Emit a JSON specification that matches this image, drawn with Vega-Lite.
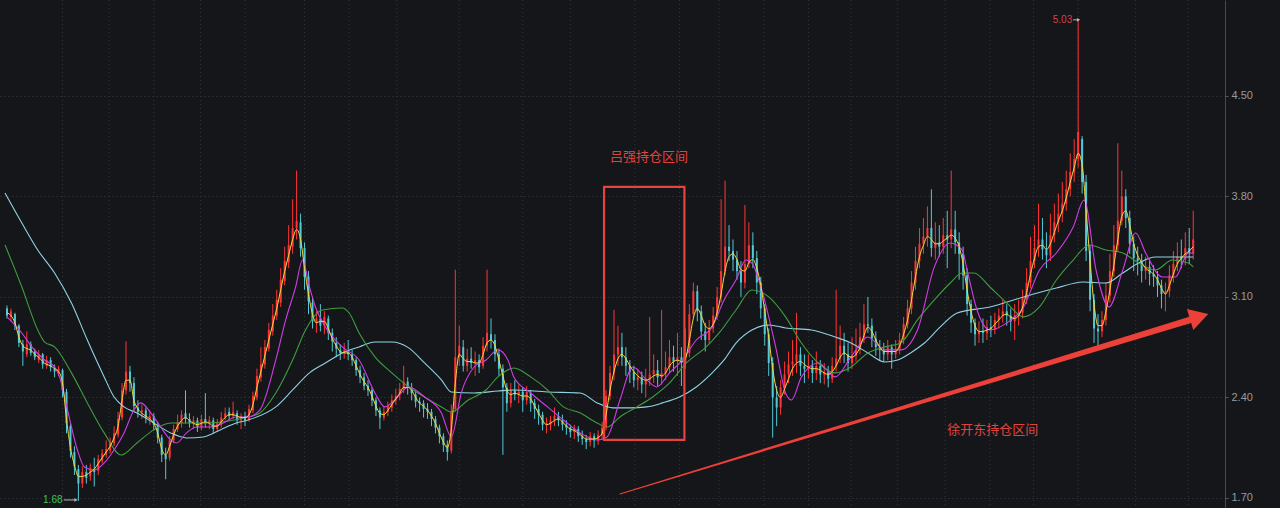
{
"$schema":"https://vega.github.io/schema/vega-lite/v6.json",
"autosize":{"type":"none"},
"padding":{"left":0,"top":0,"right":55,"bottom":0},
"width":1225,"height":508,
"background":"#15161a",
"config":{"view":{"stroke":null},"font":"Noto Sans CJK SC"},
"datasets":{
"k":[
{"i":0,"o":3.02,"h":3.04,"l":2.95,"c":2.97,"m":2.99},{"i":1,"o":2.96,"h":3.02,"l":2.93,"c":3.00,"m":2.97},{"i":2,"o":2.98,"h":2.99,"l":2.87,"c":2.90,"m":2.92},{"i":3,"o":2.90,"h":2.91,"l":2.75,"c":2.78,"m":2.82},{"i":4,"o":2.77,"h":2.80,"l":2.62,"c":2.72,"m":2.76},{"i":5,"o":2.70,"h":2.86,"l":2.68,"c":2.77,"m":2.74},{"i":6,"o":2.77,"h":2.79,"l":2.69,"c":2.71,"m":2.73},{"i":7,"o":2.72,"h":2.74,"l":2.66,"c":2.68,"m":2.70},{"i":8,"o":2.66,"h":2.73,"l":2.64,"c":2.70,"m":2.68},{"i":9,"o":2.70,"h":2.71,"l":2.60,"c":2.63,"m":2.65},
{"i":10,"o":2.62,"h":2.69,"l":2.60,"c":2.66,"m":2.63},{"i":11,"o":2.66,"h":2.68,"l":2.58,"c":2.61,"m":2.62},{"i":12,"o":2.60,"h":2.63,"l":2.54,"c":2.58,"m":2.60},{"i":13,"o":2.57,"h":2.62,"l":2.55,"c":2.60,"m":2.58},{"i":14,"o":2.59,"h":2.60,"l":2.40,"c":2.45,"m":2.50},{"i":15,"o":2.44,"h":2.46,"l":2.15,"c":2.22,"m":2.25},{"i":16,"o":2.20,"h":2.22,"l":1.98,"c":2.03,"m":2.05},{"i":17,"o":2.02,"h":2.06,"l":1.86,"c":1.92,"m":1.93},{"i":18,"o":1.90,"h":1.93,"l":1.68,"c":1.80,"m":1.85},{"i":19,"o":1.80,"h":1.92,"l":1.77,"c":1.88,"m":1.85},
{"i":20,"o":1.88,"h":1.93,"l":1.80,"c":1.84,"m":1.86},{"i":21,"o":1.85,"h":1.94,"l":1.82,"c":1.91,"m":1.88},{"i":22,"o":1.90,"h":1.98,"l":1.78,"c":1.88,"m":1.90},{"i":23,"o":1.89,"h":2.00,"l":1.86,"c":1.97,"m":1.94},{"i":24,"o":1.96,"h":2.04,"l":1.94,"c":2.01,"m":1.98},{"i":25,"o":2.00,"h":2.10,"l":1.98,"c":2.04,"m":2.02},{"i":26,"o":2.03,"h":2.12,"l":2.01,"c":2.09,"m":2.06},{"i":27,"o":2.08,"h":2.20,"l":2.06,"c":2.15,"m":2.12},{"i":28,"o":2.14,"h":2.30,"l":2.12,"c":2.25,"m":2.20},{"i":29,"o":2.26,"h":2.50,"l":2.24,"c":2.45,"m":2.38},
{"i":30,"o":2.45,"h":2.79,"l":2.42,"c":2.58,"m":2.52},{"i":31,"o":2.58,"h":2.62,"l":2.44,"c":2.50,"m":2.52},{"i":32,"o":2.50,"h":2.54,"l":2.30,"c":2.34,"m":2.38},{"i":33,"o":2.33,"h":2.38,"l":2.26,"c":2.30,"m":2.32},{"i":34,"o":2.30,"h":2.35,"l":2.25,"c":2.31,"m":2.29},{"i":35,"o":2.31,"h":2.33,"l":2.22,"c":2.26,"m":2.27},{"i":36,"o":2.25,"h":2.31,"l":2.21,"c":2.27,"m":2.25},{"i":37,"o":2.27,"h":2.29,"l":2.17,"c":2.21,"m":2.22},{"i":38,"o":2.20,"h":2.23,"l":2.08,"c":2.12,"m":2.15},{"i":39,"o":2.12,"h":2.14,"l":1.95,"c":2.00,"m":2.04},
{"i":40,"o":2.00,"h":2.05,"l":1.83,"c":1.97,"m":2.00},{"i":41,"o":1.98,"h":2.13,"l":1.96,"c":2.10,"m":2.06},{"i":42,"o":2.10,"h":2.21,"l":2.08,"c":2.18,"m":2.14},{"i":43,"o":2.18,"h":2.28,"l":2.16,"c":2.23,"m":2.20},{"i":44,"o":2.22,"h":2.31,"l":2.19,"c":2.28,"m":2.24},{"i":45,"o":2.29,"h":2.45,"l":2.22,"c":2.25,"m":2.26},{"i":46,"o":2.25,"h":2.29,"l":2.19,"c":2.22,"m":2.24},{"i":47,"o":2.22,"h":2.27,"l":2.18,"c":2.24,"m":2.22},{"i":48,"o":2.24,"h":2.26,"l":2.16,"c":2.19,"m":2.21},{"i":49,"o":2.19,"h":2.28,"l":2.17,"c":2.25,"m":2.22},
{"i":50,"o":2.25,"h":2.43,"l":2.19,"c":2.22,"m":2.23},{"i":51,"o":2.22,"h":2.27,"l":2.18,"c":2.24,"m":2.22},{"i":52,"o":2.24,"h":2.26,"l":2.15,"c":2.18,"m":2.20},{"i":53,"o":2.18,"h":2.25,"l":2.16,"c":2.22,"m":2.20},{"i":54,"o":2.21,"h":2.30,"l":2.19,"c":2.26,"m":2.23},{"i":55,"o":2.26,"h":2.33,"l":2.24,"c":2.29,"m":2.26},{"i":56,"o":2.30,"h":2.33,"l":2.24,"c":2.27,"m":2.28},{"i":57,"o":2.27,"h":2.37,"l":2.25,"c":2.30,"m":2.28},{"i":58,"o":2.29,"h":2.31,"l":2.21,"c":2.24,"m":2.27},{"i":59,"o":2.24,"h":2.29,"l":2.18,"c":2.27,"m":2.26},
{"i":60,"o":2.27,"h":2.30,"l":2.20,"c":2.24,"m":2.26},{"i":61,"o":2.25,"h":2.35,"l":2.23,"c":2.32,"m":2.28},{"i":62,"o":2.31,"h":2.44,"l":2.29,"c":2.41,"m":2.35},{"i":63,"o":2.40,"h":2.60,"l":2.38,"c":2.55,"m":2.47},{"i":64,"o":2.54,"h":2.75,"l":2.51,"c":2.63,"m":2.58},{"i":65,"o":2.63,"h":2.80,"l":2.60,"c":2.75,"m":2.69},{"i":66,"o":2.74,"h":2.92,"l":2.72,"c":2.87,"m":2.80},{"i":67,"o":2.86,"h":3.05,"l":2.83,"c":2.97,"m":2.91},{"i":68,"o":2.97,"h":3.15,"l":2.94,"c":3.08,"m":3.02},{"i":69,"o":3.06,"h":3.30,"l":3.03,"c":3.22,"m":3.15},
{"i":70,"o":3.21,"h":3.45,"l":3.18,"c":3.35,"m":3.28},{"i":71,"o":3.34,"h":3.60,"l":3.30,"c":3.46,"m":3.39},{"i":72,"o":3.45,"h":3.78,"l":3.40,"c":3.58,"m":3.50},{"i":73,"o":3.58,"h":3.98,"l":3.50,"c":3.63,"m":3.57},{"i":74,"o":3.62,"h":3.68,"l":3.38,"c":3.44,"m":3.50},{"i":75,"o":3.44,"h":3.48,"l":3.15,"c":3.24,"m":3.30},{"i":76,"o":3.24,"h":3.28,"l":2.98,"c":3.07,"m":3.12},{"i":77,"o":3.06,"h":3.10,"l":2.88,"c":2.93,"m":2.98},{"i":78,"o":2.92,"h":3.00,"l":2.85,"c":2.95,"m":2.92},{"i":79,"o":2.95,"h":3.05,"l":2.86,"c":2.90,"m":2.93},
{"i":80,"o":2.90,"h":3.00,"l":2.84,"c":2.96,"m":2.93},{"i":81,"o":2.95,"h":2.97,"l":2.80,"c":2.85,"m":2.88},{"i":82,"o":2.85,"h":2.88,"l":2.72,"c":2.79,"m":2.81},{"i":83,"o":2.78,"h":2.82,"l":2.68,"c":2.74,"m":2.76},{"i":84,"o":2.73,"h":2.77,"l":2.66,"c":2.71,"m":2.72},{"i":85,"o":2.71,"h":2.78,"l":2.67,"c":2.73,"m":2.71},{"i":86,"o":2.72,"h":2.80,"l":2.66,"c":2.70,"m":2.71},{"i":87,"o":2.70,"h":2.73,"l":2.62,"c":2.66,"m":2.68},{"i":88,"o":2.66,"h":2.68,"l":2.55,"c":2.59,"m":2.62},{"i":89,"o":2.59,"h":2.62,"l":2.50,"c":2.54,"m":2.56},
{"i":90,"o":2.54,"h":2.57,"l":2.45,"c":2.48,"m":2.51},{"i":91,"o":2.48,"h":2.52,"l":2.41,"c":2.45,"m":2.47},{"i":92,"o":2.45,"h":2.47,"l":2.34,"c":2.38,"m":2.41},{"i":93,"o":2.38,"h":2.40,"l":2.27,"c":2.31,"m":2.34},{"i":94,"o":2.31,"h":2.33,"l":2.18,"c":2.26,"m":2.29},{"i":95,"o":2.26,"h":2.34,"l":2.24,"c":2.30,"m":2.28},{"i":96,"o":2.30,"h":2.37,"l":2.27,"c":2.34,"m":2.31},{"i":97,"o":2.33,"h":2.42,"l":2.30,"c":2.38,"m":2.35},{"i":98,"o":2.38,"h":2.46,"l":2.35,"c":2.41,"m":2.39},{"i":99,"o":2.42,"h":2.50,"l":2.38,"c":2.46,"m":2.43},
{"i":100,"o":2.46,"h":2.62,"l":2.43,"c":2.51,"m":2.47},{"i":101,"o":2.51,"h":2.54,"l":2.42,"c":2.47,"m":2.47},{"i":102,"o":2.47,"h":2.50,"l":2.38,"c":2.43,"m":2.45},{"i":103,"o":2.42,"h":2.45,"l":2.33,"c":2.37,"m":2.40},{"i":104,"o":2.37,"h":2.40,"l":2.30,"c":2.36,"m":2.36},{"i":105,"o":2.36,"h":2.38,"l":2.26,"c":2.32,"m":2.34},{"i":106,"o":2.32,"h":2.36,"l":2.25,"c":2.30,"m":2.31},{"i":107,"o":2.30,"h":2.32,"l":2.20,"c":2.25,"m":2.27},{"i":108,"o":2.25,"h":2.27,"l":2.15,"c":2.19,"m":2.22},{"i":109,"o":2.19,"h":2.21,"l":2.08,"c":2.13,"m":2.15},
{"i":110,"o":2.13,"h":2.15,"l":2.02,"c":2.07,"m":2.09},{"i":111,"o":2.07,"h":2.10,"l":1.96,"c":2.02,"m":2.05},{"i":112,"o":2.03,"h":2.35,"l":2.01,"c":2.30,"m":2.18},{"i":113,"o":2.32,"h":3.29,"l":2.30,"c":2.68,"m":2.50},{"i":114,"o":2.68,"h":2.90,"l":2.62,"c":2.76,"m":2.70},{"i":115,"o":2.75,"h":2.80,"l":2.58,"c":2.62,"m":2.67},{"i":116,"o":2.62,"h":2.74,"l":2.58,"c":2.67,"m":2.65},{"i":117,"o":2.67,"h":2.75,"l":2.60,"c":2.64,"m":2.65},{"i":118,"o":2.64,"h":2.72,"l":2.55,"c":2.66,"m":2.64},{"i":119,"o":2.66,"h":2.70,"l":2.57,"c":2.61,"m":2.64},
{"i":120,"o":2.62,"h":2.82,"l":2.60,"c":2.76,"m":2.70},{"i":121,"o":2.76,"h":3.29,"l":2.72,"c":2.85,"m":2.78},{"i":122,"o":2.84,"h":2.95,"l":2.74,"c":2.80,"m":2.80},{"i":123,"o":2.80,"h":2.84,"l":2.65,"c":2.70,"m":2.76},{"i":124,"o":2.70,"h":2.74,"l":2.55,"c":2.60,"m":2.66},{"i":125,"o":2.60,"h":2.63,"l":2.00,"c":2.47,"m":2.55},{"i":126,"o":2.47,"h":2.50,"l":2.30,"c":2.36,"m":2.45},{"i":127,"o":2.36,"h":2.50,"l":2.33,"c":2.45,"m":2.42},{"i":128,"o":2.45,"h":2.52,"l":2.38,"c":2.42,"m":2.43},{"i":129,"o":2.42,"h":2.49,"l":2.36,"c":2.44,"m":2.42},
{"i":130,"o":2.44,"h":2.47,"l":2.30,"c":2.38,"m":2.41},{"i":131,"o":2.38,"h":2.48,"l":2.35,"c":2.44,"m":2.41},{"i":132,"o":2.43,"h":2.45,"l":2.30,"c":2.36,"m":2.39},{"i":133,"o":2.36,"h":2.39,"l":2.25,"c":2.32,"m":2.34},{"i":134,"o":2.32,"h":2.35,"l":2.21,"c":2.28,"m":2.29},{"i":135,"o":2.28,"h":2.30,"l":2.17,"c":2.21,"m":2.24},{"i":136,"o":2.21,"h":2.26,"l":2.15,"c":2.22,"m":2.21},{"i":137,"o":2.21,"h":2.27,"l":2.17,"c":2.24,"m":2.22},{"i":138,"o":2.24,"h":2.33,"l":2.20,"c":2.27,"m":2.24},{"i":139,"o":2.27,"h":2.30,"l":2.20,"c":2.24,"m":2.25},
{"i":140,"o":2.24,"h":2.28,"l":2.17,"c":2.21,"m":2.23},{"i":141,"o":2.21,"h":2.24,"l":2.14,"c":2.19,"m":2.20},{"i":142,"o":2.19,"h":2.21,"l":2.12,"c":2.16,"m":2.18},{"i":143,"o":2.16,"h":2.21,"l":2.11,"c":2.18,"m":2.17},{"i":144,"o":2.18,"h":2.20,"l":2.09,"c":2.13,"m":2.15},{"i":145,"o":2.13,"h":2.17,"l":2.07,"c":2.11,"m":2.13},{"i":146,"o":2.11,"h":2.14,"l":2.04,"c":2.09,"m":2.11},{"i":147,"o":2.09,"h":2.16,"l":2.06,"c":2.13,"m":2.11},{"i":148,"o":2.13,"h":2.15,"l":2.05,"c":2.10,"m":2.11},{"i":149,"o":2.10,"h":2.17,"l":2.07,"c":2.14,"m":2.12},
{"i":150,"o":2.14,"h":2.23,"l":2.11,"c":2.19,"m":2.15},{"i":151,"o":2.19,"h":2.45,"l":2.17,"c":2.41,"m":2.28},{"i":152,"o":2.41,"h":2.62,"l":2.38,"c":2.57,"m":2.45},{"i":153,"o":2.57,"h":3.01,"l":2.52,"c":2.70,"m":2.58},{"i":154,"o":2.70,"h":2.90,"l":2.62,"c":2.75,"m":2.67},{"i":155,"o":2.75,"h":2.85,"l":2.62,"c":2.68,"m":2.70},{"i":156,"o":2.68,"h":2.75,"l":2.55,"c":2.62,"m":2.67},{"i":157,"o":2.62,"h":2.66,"l":2.50,"c":2.58,"m":2.62},{"i":158,"o":2.58,"h":2.62,"l":2.47,"c":2.52,"m":2.58},{"i":159,"o":2.52,"h":2.60,"l":2.45,"c":2.54,"m":2.55},
{"i":160,"o":2.54,"h":2.58,"l":2.43,"c":2.49,"m":2.53},{"i":161,"o":2.49,"h":2.60,"l":2.40,"c":2.52,"m":2.52},{"i":162,"o":2.52,"h":2.96,"l":2.48,"c":2.56,"m":2.53},{"i":163,"o":2.56,"h":2.70,"l":2.50,"c":2.59,"m":2.55},{"i":164,"o":2.59,"h":2.66,"l":2.48,"c":2.54,"m":2.56},{"i":165,"o":2.54,"h":3.01,"l":2.49,"c":2.57,"m":2.55},{"i":166,"o":2.57,"h":2.72,"l":2.52,"c":2.61,"m":2.57},{"i":167,"o":2.61,"h":2.80,"l":2.57,"c":2.68,"m":2.62},{"i":168,"o":2.68,"h":2.76,"l":2.58,"c":2.65,"m":2.65},{"i":169,"o":2.65,"h":2.85,"l":2.55,"c":2.68,"m":2.66},
{"i":170,"o":2.68,"h":2.75,"l":2.48,"c":2.64,"m":2.65},{"i":171,"o":2.64,"h":2.88,"l":2.60,"c":2.71,"m":2.67},{"i":172,"o":2.71,"h":3.05,"l":2.68,"c":2.98,"m":2.80},{"i":173,"o":2.98,"h":3.20,"l":2.95,"c":3.14,"m":2.95},{"i":174,"o":3.14,"h":3.18,"l":2.93,"c":3.00,"m":3.02},{"i":175,"o":3.00,"h":3.04,"l":2.80,"c":2.86,"m":2.97},{"i":176,"o":2.86,"h":2.92,"l":2.72,"c":2.80,"m":2.90},{"i":177,"o":2.80,"h":2.94,"l":2.77,"c":2.88,"m":2.88},{"i":178,"o":2.88,"h":3.03,"l":2.85,"c":2.97,"m":2.91},{"i":179,"o":2.97,"h":3.17,"l":2.94,"c":3.10,"m":2.99},
{"i":180,"o":3.10,"h":3.78,"l":3.06,"c":3.28,"m":3.12},{"i":181,"o":3.28,"h":3.91,"l":3.25,"c":3.45,"m":3.28},{"i":182,"o":3.45,"h":3.60,"l":3.35,"c":3.42,"m":3.38},{"i":183,"o":3.42,"h":3.50,"l":3.28,"c":3.36,"m":3.40},{"i":184,"o":3.36,"h":3.42,"l":3.22,"c":3.28,"m":3.36},{"i":185,"o":3.28,"h":3.35,"l":3.10,"c":3.20,"m":3.29},{"i":186,"o":3.20,"h":3.74,"l":3.16,"c":3.33,"m":3.28},{"i":187,"o":3.33,"h":3.62,"l":3.30,"c":3.46,"m":3.34},{"i":188,"o":3.46,"h":3.55,"l":3.30,"c":3.37,"m":3.36},{"i":189,"o":3.37,"h":3.42,"l":3.12,"c":3.20,"m":3.30},
{"i":190,"o":3.20,"h":3.24,"l":2.95,"c":3.02,"m":3.18},{"i":191,"o":3.02,"h":3.05,"l":2.76,"c":2.84,"m":3.00},{"i":192,"o":2.84,"h":2.88,"l":2.55,"c":2.64,"m":2.82},{"i":193,"o":2.64,"h":2.68,"l":2.12,"c":2.40,"m":2.60},{"i":194,"o":2.40,"h":2.48,"l":2.20,"c":2.33,"m":2.45},{"i":195,"o":2.33,"h":2.52,"l":2.28,"c":2.47,"m":2.40},{"i":196,"o":2.47,"h":2.65,"l":2.42,"c":2.56,"m":2.46},{"i":197,"o":2.56,"h":2.72,"l":2.50,"c":2.63,"m":2.53},{"i":198,"o":2.63,"h":2.80,"l":2.55,"c":2.65,"m":2.60},{"i":199,"o":2.65,"h":2.99,"l":2.57,"c":2.70,"m":2.64},
{"i":200,"o":2.70,"h":2.75,"l":2.55,"c":2.62,"m":2.65},{"i":201,"o":2.62,"h":2.70,"l":2.50,"c":2.60,"m":2.63},{"i":202,"o":2.60,"h":2.70,"l":2.53,"c":2.62,"m":2.61},{"i":203,"o":2.62,"h":2.66,"l":2.50,"c":2.57,"m":2.60},{"i":204,"o":2.57,"h":2.72,"l":2.52,"c":2.62,"m":2.60},{"i":205,"o":2.62,"h":2.66,"l":2.50,"c":2.56,"m":2.59},{"i":206,"o":2.56,"h":2.64,"l":2.49,"c":2.58,"m":2.57},{"i":207,"o":2.58,"h":2.62,"l":2.47,"c":2.53,"m":2.56},{"i":208,"o":2.53,"h":2.68,"l":2.50,"c":2.62,"m":2.58},{"i":209,"o":2.62,"h":3.15,"l":2.58,"c":2.67,"m":2.62},
{"i":210,"o":2.67,"h":2.90,"l":2.64,"c":2.76,"m":2.68},{"i":211,"o":2.76,"h":2.85,"l":2.64,"c":2.70,"m":2.71},{"i":212,"o":2.70,"h":2.78,"l":2.58,"c":2.64,"m":2.69},{"i":213,"o":2.64,"h":2.82,"l":2.60,"c":2.69,"m":2.68},{"i":214,"o":2.69,"h":2.88,"l":2.65,"c":2.73,"m":2.70},{"i":215,"o":2.73,"h":2.92,"l":2.70,"c":2.82,"m":2.75},{"i":216,"o":2.82,"h":3.05,"l":2.78,"c":2.91,"m":2.83},{"i":217,"o":2.91,"h":3.10,"l":2.85,"c":2.90,"m":2.89},{"i":218,"o":2.90,"h":2.95,"l":2.75,"c":2.81,"m":2.86},{"i":219,"o":2.81,"h":2.86,"l":2.69,"c":2.75,"m":2.80},
{"i":220,"o":2.75,"h":2.80,"l":2.66,"c":2.73,"m":2.75},{"i":221,"o":2.73,"h":2.78,"l":2.65,"c":2.70,"m":2.72},{"i":222,"o":2.70,"h":2.80,"l":2.66,"c":2.75,"m":2.72},{"i":223,"o":2.75,"h":2.77,"l":2.60,"c":2.70,"m":2.72},{"i":224,"o":2.70,"h":2.80,"l":2.67,"c":2.74,"m":2.72},{"i":225,"o":2.74,"h":2.85,"l":2.70,"c":2.80,"m":2.76},{"i":226,"o":2.80,"h":2.96,"l":2.77,"c":2.91,"m":2.84},{"i":227,"o":2.91,"h":3.08,"l":2.88,"c":3.02,"m":2.94},{"i":228,"o":3.02,"h":3.28,"l":2.98,"c":3.20,"m":3.08},{"i":229,"o":3.20,"h":3.45,"l":3.15,"c":3.35,"m":3.24},
{"i":230,"o":3.35,"h":3.58,"l":3.30,"c":3.47,"m":3.38},{"i":231,"o":3.47,"h":3.65,"l":3.40,"c":3.52,"m":3.46},{"i":232,"o":3.52,"h":3.73,"l":3.45,"c":3.58,"m":3.52},{"i":233,"o":3.58,"h":3.85,"l":3.38,"c":3.44,"m":3.50},{"i":234,"o":3.44,"h":3.62,"l":3.36,"c":3.48,"m":3.47},{"i":235,"o":3.48,"h":3.60,"l":3.38,"c":3.45,"m":3.47},{"i":236,"o":3.45,"h":3.65,"l":3.40,"c":3.53,"m":3.49},{"i":237,"o":3.53,"h":3.70,"l":3.30,"c":3.50,"m":3.51},{"i":238,"o":3.50,"h":3.98,"l":3.44,"c":3.57,"m":3.53},{"i":239,"o":3.57,"h":3.70,"l":3.40,"c":3.48,"m":3.51},
{"i":240,"o":3.48,"h":3.55,"l":3.22,"c":3.40,"m":3.45},{"i":241,"o":3.40,"h":3.45,"l":3.15,"c":3.25,"m":3.33},{"i":242,"o":3.25,"h":3.30,"l":2.97,"c":3.05,"m":3.15},{"i":243,"o":3.05,"h":3.08,"l":2.85,"c":2.92,"m":3.00},{"i":244,"o":2.92,"h":2.95,"l":2.76,"c":2.84,"m":2.90},{"i":245,"o":2.84,"h":2.93,"l":2.78,"c":2.86,"m":2.86},{"i":246,"o":2.86,"h":2.95,"l":2.78,"c":2.85,"m":2.86},{"i":247,"o":2.85,"h":2.94,"l":2.80,"c":2.89,"m":2.87},{"i":248,"o":2.89,"h":2.97,"l":2.82,"c":2.87,"m":2.88},{"i":249,"o":2.87,"h":2.99,"l":2.84,"c":2.94,"m":2.91},
{"i":250,"o":2.94,"h":3.02,"l":2.88,"c":2.97,"m":2.94},{"i":251,"o":2.97,"h":3.08,"l":2.92,"c":3.00,"m":2.97},{"i":252,"o":3.00,"h":3.05,"l":2.90,"c":2.97,"m":2.98},{"i":253,"o":2.97,"h":3.02,"l":2.86,"c":2.93,"m":2.96},{"i":254,"o":2.93,"h":3.05,"l":2.80,"c":2.97,"m":2.95},{"i":255,"o":2.97,"h":3.08,"l":2.90,"c":2.99,"m":2.97},{"i":256,"o":2.99,"h":3.15,"l":2.95,"c":3.09,"m":3.03},{"i":257,"o":3.09,"h":3.30,"l":3.05,"c":3.20,"m":3.13},{"i":258,"o":3.20,"h":3.52,"l":3.16,"c":3.35,"m":3.26},{"i":259,"o":3.35,"h":3.60,"l":3.30,"c":3.44,"m":3.37},
{"i":260,"o":3.44,"h":3.75,"l":3.38,"c":3.50,"m":3.45},{"i":261,"o":3.50,"h":3.65,"l":3.36,"c":3.43,"m":3.46},{"i":262,"o":3.43,"h":3.55,"l":3.30,"c":3.39,"m":3.43},{"i":263,"o":3.39,"h":3.68,"l":3.35,"c":3.53,"m":3.47},{"i":264,"o":3.53,"h":3.75,"l":3.48,"c":3.62,"m":3.55},{"i":265,"o":3.62,"h":3.82,"l":3.55,"c":3.68,"m":3.63},{"i":266,"o":3.68,"h":3.90,"l":3.62,"c":3.75,"m":3.70},{"i":267,"o":3.75,"h":3.98,"l":3.70,"c":3.85,"m":3.79},{"i":268,"o":3.85,"h":4.10,"l":3.80,"c":3.97,"m":3.90},{"i":269,"o":3.97,"h":4.20,"l":3.90,"c":4.06,"m":4.00},
{"i":270,"o":4.06,"h":5.03,"l":4.00,"c":4.25,"m":4.10},{"i":271,"o":4.20,"h":4.22,"l":3.82,"c":3.90,"m":4.02},{"i":272,"o":3.90,"h":3.95,"l":3.35,"c":3.42,"m":3.70},{"i":273,"o":3.42,"h":3.46,"l":3.00,"c":3.08,"m":3.35},{"i":274,"o":3.08,"h":3.12,"l":2.78,"c":2.88,"m":3.05},{"i":275,"o":2.88,"h":2.98,"l":2.75,"c":2.86,"m":2.90},{"i":276,"o":2.86,"h":3.00,"l":2.82,"c":2.94,"m":2.90},{"i":277,"o":2.94,"h":3.20,"l":2.90,"c":3.11,"m":3.00},{"i":278,"o":3.11,"h":3.40,"l":3.06,"c":3.28,"m":3.15},{"i":279,"o":3.28,"h":3.60,"l":3.24,"c":3.46,"m":3.32},
{"i":280,"o":3.46,"h":4.17,"l":3.42,"c":3.63,"m":3.50},{"i":281,"o":3.63,"h":3.98,"l":3.60,"c":3.80,"m":3.66},{"i":282,"o":3.80,"h":3.85,"l":3.58,"c":3.65,"m":3.70},{"i":283,"o":3.65,"h":3.70,"l":3.40,"c":3.47,"m":3.60},{"i":284,"o":3.47,"h":3.52,"l":3.28,"c":3.37,"m":3.47},{"i":285,"o":3.37,"h":3.45,"l":3.25,"c":3.35,"m":3.39},{"i":286,"o":3.35,"h":3.40,"l":3.20,"c":3.28,"m":3.34},{"i":287,"o":3.28,"h":3.38,"l":3.22,"c":3.31,"m":3.30},{"i":288,"o":3.31,"h":3.36,"l":3.18,"c":3.26,"m":3.28},{"i":289,"o":3.26,"h":3.32,"l":3.17,"c":3.24,"m":3.26},
{"i":290,"o":3.24,"h":3.28,"l":3.10,"c":3.18,"m":3.22},{"i":291,"o":3.18,"h":3.22,"l":3.02,"c":3.12,"m":3.16},{"i":292,"o":3.12,"h":3.20,"l":3.00,"c":3.14,"m":3.12},{"i":293,"o":3.14,"h":3.32,"l":3.10,"c":3.25,"m":3.18},{"i":294,"o":3.25,"h":3.42,"l":3.20,"c":3.33,"m":3.26},{"i":295,"o":3.33,"h":3.48,"l":3.28,"c":3.38,"m":3.33},{"i":296,"o":3.38,"h":3.50,"l":3.30,"c":3.36,"m":3.37},{"i":297,"o":3.36,"h":3.55,"l":3.32,"c":3.44,"m":3.40},{"i":298,"o":3.44,"h":3.58,"l":3.33,"c":3.40,"m":3.42},{"i":299,"o":3.40,"h":3.70,"l":3.36,"c":3.50,"m":3.45}
],
"cyn":[{"i":-0.5,"v":3.824},{"i":3.75,"v":3.615},{"i":7.75,"v":3.427},{"i":12,"v":3.267},{"i":16.25,"v":3.058},{"i":20.25,"v":2.8},{"i":24.5,"v":2.543},{"i":27,"v":2.403},{"i":29.5,"v":2.334},{"i":32.75,"v":2.292},{"i":37,"v":2.222},{"i":41.25,"v":2.153},{"i":45.25,"v":2.118},{"i":49.5,"v":2.125},{"i":53.75,"v":2.174},{"i":57.75,"v":2.222},{"i":60.75,"v":2.243},{"i":67.75,"v":2.334},{"i":72,"v":2.452},{"i":76.25,"v":2.571},{"i":80.25,"v":2.64},{"i":84.5,"v":2.71},{"i":88.75,"v":2.752},{"i":92.75,"v":2.786},{"i":97,"v":2.786},{"i":101.25,"v":2.745},{"i":105.25,"v":2.64},{"i":109.5,"v":2.522},{"i":112,"v":2.438},{"i":117.75,"v":2.431},{"i":123.75,"v":2.445},{"i":127.75,"v":2.452},{"i":136.25,"v":2.438},{"i":144.5,"v":2.431},{"i":148.75,"v":2.362},{"i":152.75,"v":2.327},{"i":157,"v":2.327},{"i":161.25,"v":2.334},{"i":165.25,"v":2.362},{"i":169.5,"v":2.403},{"i":173.75,"v":2.473},{"i":177.75,"v":2.571},{"i":180.75,"v":2.661},{"i":183.75,"v":2.779},{"i":187.75,"v":2.87},{"i":192,"v":2.905},{"i":196.25,"v":2.884},{"i":202.75,"v":2.87},{"i":208.75,"v":2.821},{"i":212.75,"v":2.779},{"i":217,"v":2.71},{"i":221.25,"v":2.647},{"i":224.5,"v":2.661},{"i":227.75,"v":2.71},{"i":231.25,"v":2.779},{"i":235.25,"v":2.891},{"i":239.5,"v":2.988},{"i":247.75,"v":3.03},{"i":256.25,"v":3.1},{"i":264.5,"v":3.162},{"i":271.25,"v":3.204},{"i":277,"v":3.197},{"i":281.25,"v":3.267},{"i":285.25,"v":3.336},{"i":289.5,"v":3.378},{"i":293.75,"v":3.378},{"i":299,"v":3.378}],
"grn":[{"i":-0.5,"v":3.462},{"i":3.75,"v":3.169},{"i":7.75,"v":2.87},{"i":9.5,"v":2.786},{"i":12,"v":2.752},{"i":16.25,"v":2.571},{"i":20.25,"v":2.362},{"i":24.5,"v":2.153},{"i":28.75,"v":1.999},{"i":32.75,"v":2.083},{"i":37,"v":2.174},{"i":41.25,"v":2.222},{"i":49.5,"v":2.222},{"i":60.75,"v":2.264},{"i":63.75,"v":2.292},{"i":67.75,"v":2.431},{"i":72,"v":2.661},{"i":75.25,"v":2.87},{"i":79.5,"v":3.009},{"i":84.5,"v":3.023},{"i":86.25,"v":2.988},{"i":88.75,"v":2.849},{"i":92.75,"v":2.682},{"i":97,"v":2.571},{"i":101.25,"v":2.473},{"i":105.25,"v":2.403},{"i":109.5,"v":2.334},{"i":112,"v":2.299},{"i":116.25,"v":2.382},{"i":120.75,"v":2.452},{"i":123.75,"v":2.543},{"i":127.75,"v":2.605},{"i":132,"v":2.543},{"i":136.25,"v":2.452},{"i":140.25,"v":2.334},{"i":144.5,"v":2.292},{"i":148.75,"v":2.222},{"i":151.25,"v":2.194},{"i":154.5,"v":2.264},{"i":158.75,"v":2.334},{"i":162.75,"v":2.403},{"i":167,"v":2.501},{"i":171.25,"v":2.64},{"i":176.25,"v":2.752},{"i":179.5,"v":2.849},{"i":183.75,"v":3.009},{"i":187.75,"v":3.148},{"i":192,"v":3.1},{"i":196.25,"v":2.961},{"i":200.25,"v":2.779},{"i":204.5,"v":2.64},{"i":208.75,"v":2.571},{"i":212.75,"v":2.612},{"i":217,"v":2.71},{"i":221.25,"v":2.752},{"i":225.25,"v":2.779},{"i":229.5,"v":2.94},{"i":233.75,"v":3.079},{"i":237.75,"v":3.197},{"i":240.75,"v":3.267},{"i":243.75,"v":3.267},{"i":247.75,"v":3.169},{"i":252,"v":3.058},{"i":256.25,"v":2.961},{"i":260.25,"v":3.03},{"i":264.5,"v":3.218},{"i":268.75,"v":3.357},{"i":272.75,"v":3.462},{"i":277,"v":3.427},{"i":281.25,"v":3.406},{"i":285.25,"v":3.336},{"i":289.5,"v":3.288},{"i":293.75,"v":3.357},{"i":297.75,"v":3.336},{"i":299,"v":3.309}],
"mag":[{"i":0,"v":2.961},{"i":3.75,"v":2.849},{"i":6.25,"v":2.752},{"i":9.5,"v":2.661},{"i":12,"v":2.612},{"i":13.25,"v":2.543},{"i":15.25,"v":2.313},{"i":17.75,"v":2.034},{"i":19.5,"v":1.916},{"i":22,"v":1.895},{"i":24.5,"v":1.944},{"i":27,"v":2.034},{"i":29.5,"v":2.153},{"i":32,"v":2.313},{"i":33.75,"v":2.362},{"i":36.25,"v":2.292},{"i":38.75,"v":2.194},{"i":41.25,"v":2.104},{"i":42.75,"v":2.083},{"i":45.25,"v":2.153},{"i":47.75,"v":2.194},{"i":51.25,"v":2.194},{"i":54.5,"v":2.222},{"i":57.75,"v":2.264},{"i":60.75,"v":2.264},{"i":63.75,"v":2.313},{"i":67.75,"v":2.661},{"i":70.25,"v":2.94},{"i":72.75,"v":3.169},{"i":74.5,"v":3.357},{"i":76.25,"v":3.169},{"i":77.75,"v":3.03},{"i":80.25,"v":2.891},{"i":84.5,"v":2.752},{"i":88.75,"v":2.661},{"i":92.75,"v":2.431},{"i":95.25,"v":2.334},{"i":97.75,"v":2.382},{"i":101.25,"v":2.473},{"i":105.25,"v":2.403},{"i":109.5,"v":2.292},{"i":112,"v":2.125},{"i":114.5,"v":2.431},{"i":117.75,"v":2.612},{"i":120.75,"v":2.661},{"i":123.75,"v":2.731},{"i":126.25,"v":2.661},{"i":127.75,"v":2.543},{"i":132,"v":2.431},{"i":136.25,"v":2.334},{"i":140.25,"v":2.243},{"i":144.5,"v":2.153},{"i":148.75,"v":2.104},{"i":151.25,"v":2.125},{"i":154.5,"v":2.382},{"i":157.75,"v":2.612},{"i":161.25,"v":2.522},{"i":163.75,"v":2.473},{"i":167,"v":2.571},{"i":170.25,"v":2.661},{"i":173.75,"v":2.8},{"i":177.75,"v":2.891},{"i":180.75,"v":3.079},{"i":183.75,"v":3.218},{"i":186.25,"v":3.357},{"i":187.75,"v":3.336},{"i":190.25,"v":3.148},{"i":193.75,"v":2.752},{"i":196.25,"v":2.431},{"i":197.75,"v":2.382},{"i":200.25,"v":2.543},{"i":204.5,"v":2.64},{"i":208.75,"v":2.543},{"i":212.75,"v":2.682},{"i":217,"v":2.821},{"i":221.25,"v":2.731},{"i":225.25,"v":2.731},{"i":229.5,"v":2.87},{"i":233.75,"v":3.309},{"i":237.75,"v":3.476},{"i":240.75,"v":3.427},{"i":242,"v":3.288},{"i":244.5,"v":3.009},{"i":247.75,"v":2.87},{"i":252,"v":2.919},{"i":256.25,"v":3.03},{"i":260.25,"v":3.288},{"i":264.5,"v":3.406},{"i":268.75,"v":3.587},{"i":271.5,"v":3.775},{"i":274.5,"v":3.288},{"i":277.75,"v":3.03},{"i":281.25,"v":3.288},{"i":284.5,"v":3.545},{"i":287,"v":3.406},{"i":291.25,"v":3.239},{"i":294.5,"v":3.239},{"i":297.75,"v":3.406},{"i":299,"v":3.406}],
"vg":[{"g":14},{"g":25.75},{"g":37},{"g":48.75},{"g":60},{"g":75},{"g":86.25},{"g":98.25},{"g":114},{"g":130},{"g":142},{"g":158.25},{"g":169.5},{"g":179.5},{"g":190.75},{"g":202},{"g":212.75},{"g":224.5},{"g":236.5},{"g":247.75},{"g":258.75},{"g":270},{"g":284.5},{"g":297.75}],
"box":[{"x1":150.5,"x2":170.75,"y1":2.104,"y2":3.866}],
"arrow":[{"ax":154.5,"ay":1.728},{"ax":298.25,"ay":2.94}],
"head":[{"ax":300.5,"ay":2.962}],
"txt":[{"tx":152,"ty":4.075,"t":"吕强持仓区间"},{"tx":237,"ty":2.174,"t":"徐开东持仓区间"}],
"mx":[{"tx":268.5,"ty":5.03,"t":"5.03","a1":268.75,"a2":270.1,"kind":"max"},{"tx":14,"ty":1.686,"t":"1.68","a1":14.3,"a2":17.4,"kind":"min"}]
},
"layer":[
{"data":{"name":"vg"},"mark":{"type":"rule","color":"#34353a","strokeDash":[1,3],"strokeWidth":1},"encoding":{"x":{"field":"g","type":"quantitative","scale":{"domain":[-0.5,305.75],"nice":false,"zero":false},"axis":null}}},
{"data":{"name":"k"},"mark":{"type":"rule","strokeWidth":1},
 "encoding":{"x":{"field":"i","type":"quantitative"},
  "y":{"field":"l","type":"quantitative","scale":{"domain":[1.63,5.168],"nice":false,"zero":false},
   "axis":{"orient":"right","values":[1.7,2.4,3.1,3.8,4.5],"format":".2f","title":null,"labelColor":"#9a9a9a","labelFontSize":11,"labelFont":"Liberation Sans","tickColor":"#5a5a5a","tickSize":3,"domainColor":"#4a4a4a","grid":true,"gridColor":"#3c3d42","gridDash":[1,3],"labelPadding":3}},
  "y2":{"field":"h"},
  "color":{"condition":{"test":"datum.c >= datum.o","value":"#ff3434"},"value":"#54c8d4"}}},
{"data":{"name":"k"},"mark":{"type":"bar","size":2},
 "encoding":{"x":{"field":"i","type":"quantitative"},"y":{"field":"o","type":"quantitative"},"y2":{"field":"c"},
  "color":{"condition":{"test":"datum.c >= datum.o","value":"#ff3434"},"value":"#54c8d4"}}},
{"data":{"name":"cyn"},"mark":{"type":"line","color":"#8fd3e3","strokeWidth":1.1,"interpolate":"monotone","clip":true},"encoding":{"x":{"field":"i","type":"quantitative"},"y":{"field":"v","type":"quantitative"}}},
{"data":{"name":"grn"},"mark":{"type":"line","color":"#3f9c3f","strokeWidth":1.1,"interpolate":"monotone","clip":true},"encoding":{"x":{"field":"i","type":"quantitative"},"y":{"field":"v","type":"quantitative"}}},
{"data":{"name":"mag"},"mark":{"type":"line","color":"#d23ce6","strokeWidth":1.1,"interpolate":"monotone","clip":true},"encoding":{"x":{"field":"i","type":"quantitative"},"y":{"field":"v","type":"quantitative"}}},
{"data":{"name":"k"},"mark":{"type":"line","color":"#f2d83a","strokeWidth":1,"interpolate":"monotone"},"encoding":{"x":{"field":"i","type":"quantitative"},"y":{"field":"m","type":"quantitative"}}},
{"data":{"name":"box"},"mark":{"type":"rect","fill":null,"stroke":"#e8423c","strokeWidth":2.2},"encoding":{"x":{"field":"x1","type":"quantitative"},"x2":{"field":"x2"},"y":{"field":"y1","type":"quantitative"},"y2":{"field":"y2"}}},
{"data":{"name":"arrow"},"mark":{"type":"trail","color":"#ec4038"},"encoding":{"x":{"field":"ax","type":"quantitative"},"y":{"field":"ay","type":"quantitative"},"size":{"field":"ax","type":"quantitative","scale":{"range":[1,6.5],"zero":false},"legend":null}}},
{"data":{"name":"head"},"mark":{"type":"point","shape":"triangle-right","filled":true,"opacity":1,"color":"#ec4038","size":480,"angle":343},"encoding":{"x":{"field":"ax","type":"quantitative"},"y":{"field":"ay","type":"quantitative"}}},
{"data":{"name":"txt"},"mark":{"type":"text","align":"left","baseline":"middle","fontSize":13,"color":"#e0443e","font":"Noto Sans CJK SC"},"encoding":{"x":{"field":"tx","type":"quantitative"},"y":{"field":"ty","type":"quantitative"},"text":{"field":"t"}}},
{"data":{"name":"mx"},"mark":{"type":"rule","color":"#b8b8b8","strokeWidth":1},"encoding":{"x":{"field":"a1","type":"quantitative"},"x2":{"field":"a2"},"y":{"field":"ty","type":"quantitative"}}},
{"data":{"name":"mx"},"mark":{"type":"point","shape":"triangle-right","filled":true,"color":"#b8b8b8","size":14,"opacity":1},"encoding":{"x":{"field":"a2","type":"quantitative"},"y":{"field":"ty","type":"quantitative"}}},
{"data":{"name":"mx"},"mark":{"type":"text","align":"right","baseline":"middle","fontSize":10,"font":"Liberation Sans"},"encoding":{"x":{"field":"tx","type":"quantitative"},"y":{"field":"ty","type":"quantitative"},"text":{"field":"t"},"color":{"field":"kind","type":"nominal","scale":{"domain":["max","min"],"range":["#d8404a","#3cc25a"]},"legend":null}}}
]
}
